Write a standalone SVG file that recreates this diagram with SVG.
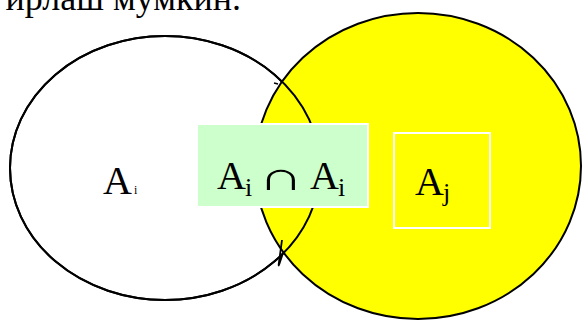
<svg xmlns="http://www.w3.org/2000/svg" width="582" height="320" viewBox="0 0 582 320">
<style>
.t{font-family:"Liberation Serif","Times New Roman",serif;fill:#000}
.big{font-size:40px}
.sub{font-size:26px}
.ol{stroke:#000;stroke-width:2}
.box{stroke:#fff;stroke-width:2}
</style>
<rect width="582" height="320" fill="#fff"/>
<text class="t" x="241" y="10" font-size="36" text-anchor="end">ирлаш мумкин.</text>
<g id="setAi">
<ellipse cx="165" cy="168" rx="155" ry="132" fill="#fff" class="ol"/>
</g>
<g id="setAj">
<ellipse cx="418" cy="166" rx="163" ry="153" fill="#ffff00" class="ol"/>
</g>
<g id="connectors" fill="none" class="ol">
<ellipse cx="165" cy="168" rx="155" ry="132" fill="none" class="ol"/>
<path d="M274,83 L278,84" stroke-width="1.5"/>
<path d="M282,240 L279,262 Q278,269 280,262 L283,253" stroke-width="1.8"/>
</g>
<g id="labelAi">
<text class="t big" x="103" y="194">A</text>
<text class="t" x="134" y="194" font-size="12">i</text>
</g>
<g id="intersection">
<rect x="197" y="124" width="171" height="83" fill="#ccffcc" class="box"/>
<text class="t big" x="217" y="189">A</text>
<text class="t sub" x="245" y="196">i</text>
<text class="t big" x="0" y="0" transform="translate(258,190) scale(1.55,1)">∩</text>
<text class="t big" x="310" y="189">A</text>
<text class="t sub" x="338" y="196">i</text>
</g>
<g id="labelAj">
<rect x="394" y="133" width="96" height="95" fill="none" class="box"/>
<text class="t big" x="415" y="195">A</text>
<text class="t sub" x="443" y="201">j</text>
</g>
</svg>
